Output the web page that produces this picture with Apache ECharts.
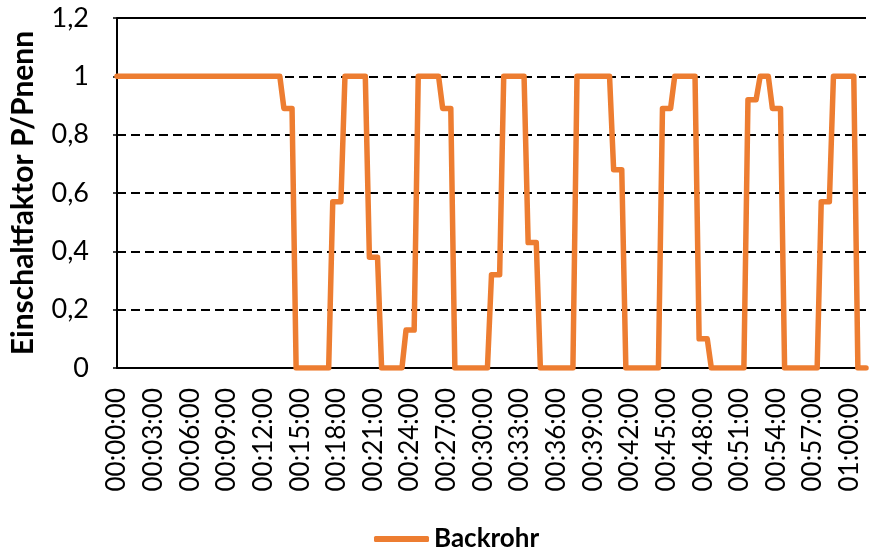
<!DOCTYPE html>
<html>
<head>
<meta charset="utf-8">
<script src="https://cdn.jsdelivr.net/npm/echarts@6/dist/echarts.min.js"></script>
<style>
html,body{margin:0;padding:0;background:#fff;}
#chart{width:869px;height:554px;}
</style>
</head>
<body>
<div id="chart"></div>
<script>
// time in minutes since 00:00:00
var times = [0, 13.333, 13.667, 14.333, 14.667, 17.333, 17.667, 18.333, 18.667, 20.333, 20.667, 21.333, 21.667,
  23.333, 23.667, 24.333, 24.667, 26.333, 26.667, 27.333, 27.667, 30.333, 30.667, 31.333, 31.667,
  33.333, 33.667, 34.333, 34.667, 37.333, 37.667, 40.333, 40.667, 41.333, 41.667, 44.333, 44.667,
  45.333, 45.667, 47.333, 47.667, 48.333, 48.667, 51.333, 51.667, 52.333, 52.667, 53.333, 53.667,
  54.333, 54.667, 57.333, 57.667, 58.333, 58.667, 60.333, 60.667, 61.333];
var backrohr = [1, 1, 0.89, 0.89, 0, 0, 0.57, 0.57, 1, 1, 0.38, 0.38, 0, 0, 0.13, 0.13, 1, 1, 0.89, 0.89,
  0, 0, 0.32, 0.32, 1, 1, 0.43, 0.43, 0, 0, 1, 1, 0.68, 0.68, 0, 0, 0.89, 0.89, 1, 1, 0.10, 0.10,
  0, 0, 0.92, 0.92, 1, 1, 0.89, 0.89, 0, 0, 0.57, 0.57, 1, 1, 0, 0];
var xTickLabels = ['00:00:00','00:03:00','00:06:00','00:09:00','00:12:00','00:15:00','00:18:00',
  '00:21:00','00:24:00','00:27:00','00:30:00','00:33:00','00:36:00','00:39:00','00:42:00',
  '00:45:00','00:48:00','00:51:00','00:54:00','00:57:00','01:00:00'];
var yTickLabels = ['0','0,2','0,4','0,6','0,8','1','1,2'];
var seriesName = 'Backrohr';
var yTitle = 'Einschaltfaktor P/Pnenn';
var yMax = 1.2;

var data = times.map(function (t, i) { return [t, backrohr[i]]; });
var FONT = 'Lato';
var ORANGE = '#ED7D31';

var chart = echarts.init(document.getElementById('chart'), null, {renderer: 'canvas'});
chart.setOption({
  animation: false,
  backgroundColor: '#fff',
  textStyle: {fontFamily: FONT, color: '#000'},
  grid: {left: 115, right: 3, top: 18, bottom: 186, containLabel: false},
  legend: {
    orient: 'horizontal',
    left: 369, top: 521,
    itemWidth: 55, itemHeight: 6,
    textStyle: {fontFamily: FONT, fontWeight: 'bold', fontSize: 26, color: '#000'},
    data: [{name: seriesName, icon: 'roundRect'}]
  },
  xAxis: {
    type: 'value', min: 0, max: times[times.length - 1], interval: 3,
    axisLine: {show: true, onZero: false, lineStyle: {color: '#000', width: 2}},
    axisTick: {show: false},
    splitLine: {show: false},
    axisLabel: {
      rotate: 90, margin: 20, fontSize: 26, fontFamily: FONT, color: '#000',
      showMaxLabel: false,
      formatter: function (v) {
        var idx = Math.round(v / 3);
        return Math.abs(v - idx * 3) < 1e-6 ? (xTickLabels[idx] || '') : '';
      }
    }
  },
  yAxis: {
    type: 'value', min: 0, max: yMax, interval: 0.2,
    name: yTitle, nameLocation: 'middle', nameRotate: 90, nameGap: 79,
    nameTextStyle: {fontFamily: FONT, fontWeight: 'bold', fontSize: 30, color: '#000'},
    axisLine: {show: true, lineStyle: {color: '#000', width: 2}},
    axisTick: {show: true, length: 4, lineStyle: {color: '#000', width: 1.5}},
    axisLabel: {
      margin: 28, fontSize: 27, fontFamily: FONT, color: '#000',
      formatter: function (v) { return yTickLabels[Math.round(v / 0.2)]; }
    },
    splitLine: {show: true, lineStyle: {color: '#000', width: 2, type: [9, 5]}}
  },
  series: [{
    name: seriesName, type: 'line', data: data,
    symbol: 'none', showSymbol: false,
    lineStyle: {color: ORANGE, width: 5.5, join: 'round', cap: 'round'},
    itemStyle: {color: ORANGE},
    markLine: {
      silent: true, symbol: 'none', label: {show: false},
      lineStyle: {color: '#000', width: 2, type: 'solid'},
      data: [{yAxis: yMax}]
    }
  }]
});
</script>
</body>
</html>
